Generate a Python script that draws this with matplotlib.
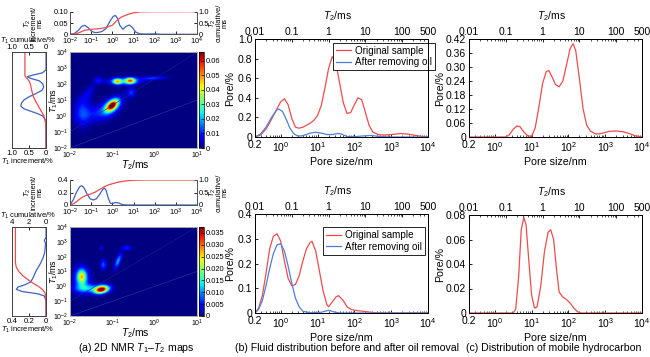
import numpy as np
import matplotlib
matplotlib.use('Agg')
import matplotlib.pyplot as plt
from matplotlib.ticker import NullLocator, LogLocator, NullFormatter
from matplotlib.lines import Line2D

plt.rcParams['font.family'] = ['Liberation Sans', 'DejaVu Sans']
plt.rcParams['mathtext.fontset'] = 'custom'
plt.rcParams['mathtext.rm'] = 'Liberation Sans'
plt.rcParams['mathtext.it'] = 'Liberation Sans:italic'
plt.rcParams['mathtext.bf'] = 'Liberation Sans:bold'
plt.rcParams['xtick.direction'] = 'in'
plt.rcParams['ytick.direction'] = 'in'
plt.rcParams['axes.linewidth'] = 0.7

# ---------------- DATA ----------------
# (a) top row: T2 spectrum (log10 T2/ms) and T1 spectrum (log10 T1/ms)
a1_t2_log = [-2.0, -1.8, -1.6, -1.45, -1.3, -1.15, -1.0, -0.85, -0.7, -0.5, -0.3, -0.1, 0.05, 0.15,
             0.25, 0.35, 0.5, 0.65, 0.8, 0.95, 1.1, 1.3, 1.6, 2.0, 2.3, 4.0]
a1_t2_inc = [0, 0.003, 0.018, 0.035, 0.04, 0.03, 0.015, 0.008, 0.008, 0.012, 0.025, 0.06, 0.08, 0.083,
             0.07, 0.04, 0.022, 0.035, 0.041, 0.03, 0.01, 0.002, 0.001, 0.002, 0, 0]
a1_cum_log = [-2.0, -1.7, -1.5, -1.3, -1.0, -0.6, -0.3, 0.0, 0.2, 0.4, 0.6, 0.8, 1.0, 1.3, 2.0, 4.0]
a1_t2_cum = [0, 0.03, 0.1, 0.18, 0.22, 0.25, 0.3, 0.4, 0.6, 0.75, 0.83, 0.9, 0.95, 0.99, 1.0, 1.0]
a1_t1_log = [4.0, 2.9, 2.7, 2.55, 2.45, 2.35, 2.2, 2.0, 1.8, 1.6, 1.4, 1.2, 1.0, 0.8, 0.62, 0.45,
             0.3, 0.15, 0.0, -0.2, -0.5, -2.0]
a1_t1_inc = [0, 0, 0.1, 0.4, 0.55, 0.45, 0.2, 0.09, 0.07, 0.12, 0.3, 0.5, 0.65, 0.72, 0.74, 0.65,
             0.45, 0.25, 0.1, 0.03, 0.005, 0]
a1_t1c_log = [4.0, 2.5, 2.4, 2.2, 2.0, 1.6, 1.2, 0.9, 0.6, 0.3, 0.0, -0.3, -0.7, -2.0]
a1_t1_cum = [0.62, 0.62, 0.58, 0.5, 0.46, 0.42, 0.37, 0.3, 0.22, 0.14, 0.06, 0.02, 0, 0]

# (a) bottom row
a2_t2_log = [-2.0, -1.85, -1.7, -1.55, -1.45, -1.35, -1.2, -1.05, -0.9, -0.75, -0.6, -0.45, -0.38,
             -0.3, -0.2, -0.1, 0.0, 0.1, 0.2, 0.35, 0.5, 0.7, 4.0]
a2_t2_inc = [0, 0.08, 0.2, 0.29, 0.31, 0.28, 0.18, 0.1, 0.08, 0.1, 0.17, 0.25, 0.27,
             0.24, 0.12, 0.03, 0.02, 0.035, 0.04, 0.025, 0.005, 0, 0]
a2_cum_log = [-2.0, -1.8, -1.6, -1.4, -1.2, -1.0, -0.8, -0.6, -0.4, -0.2, 0.0, 0.3, 0.6, 1.0, 1.5, 4.0]
a2_t2_cum = [0, 0.06, 0.2, 0.32, 0.4, 0.45, 0.52, 0.62, 0.72, 0.8, 0.85, 0.92, 0.96, 0.99, 1.0, 1.0]
a2_t1_log = [4.0, 3.3, 3.1, 2.9, 2.6, 2.3, 2.0, 1.6, 1.3, 1.0, 0.6, 0.3, 0.1, -0.05, -0.2, -0.35,
             -0.5, -0.65, -1.0, -2.0]
a2_t1_inc = [0, 0, 0.02, 0.005, 0.01, 0.015, 0.03, 0.06, 0.09, 0.12, 0.15, 0.18, 0.25, 0.33, 0.35,
             0.28, 0.1, 0.02, 0, 0]
a2_t1c_log = [4.0, 1.6, 1.3, 1.0, 0.7, 0.4, 0.2, 0.0, -0.2, -0.4, -0.6, -1.0, -2.0]
a2_t1_cum = [3.6, 3.6, 3.5, 3.2, 2.7, 2.0, 1.5, 0.9, 0.45, 0.15, 0.05, 0, 0]

# 2D map peaks: log10 T2, log10 T1, spread T2, spread T1, correlation, amplitude
m1_t2 = [-1.0, -0.88, -0.57, -0.72, -0.05, -0.55, -1.33, -1.7, -1.55, -1.05, -1.35]
m1_t1 = [0.7, 2.2, 2.25, 2.2, 2.4, 1.5, 2.25, 0.3, 1.5, 0.6, 0.2]
m1_sx = [0.1, 0.07, 0.08, 0.25, 0.22, 0.07, 0.07, 0.13, 0.1, 0.2, 0.25]
m1_sy = [0.25, 0.12, 0.13, 0.16, 0.09, 0.18, 0.15, 0.6, 0.35, 0.45, 0.35]
m1_rho = [0.5, 0, 0, 0, 0.3, 0, 0, 0, 0.6, 0.5, 0.3]
m1_amp = [0.062, 0.035, 0.042, 0.018, 0.012, 0.012, 0.009, 0.012, 0.006, 0.012, 0.007]

m2_t2 = [-1.25, -1.72, -1.72, -1.5, -1.21, -0.86, -0.66, -1.25]
m2_t1 = [-0.18, 0.72, 0.5, -0.1, 1.5, 1.75, 2.63, 2.6]
m2_sx = [0.11, 0.07, 0.12, 0.25, 0.05, 0.06, 0.08, 0.04]
m2_sy = [0.18, 0.3, 0.55, 0.2, 0.25, 0.35, 0.12, 0.1]
m2_rho = [0.3, 0, 0, 0, 0, 0.7, 0, 0]
m2_amp = [0.035, 0.017, 0.011, 0.011, 0.008, 0.011, 0.006, 0.004]

# (b) top
b1_red_log = [-0.699, -0.55, -0.4, -0.25, -0.1, 0.0, 0.1, 0.2, 0.3, 0.4, 0.5, 0.6, 0.7, 0.8, 0.9, 1.0,
              1.1, 1.2, 1.3, 1.4, 1.5, 1.6, 1.7, 1.8, 1.9, 2.0, 2.1, 2.2, 2.3, 2.4, 2.5, 2.65, 2.8,
              3.0, 3.25, 3.45, 3.6, 3.8, 4.0]
b1_red = [0.0, 0.02, 0.08, 0.18, 0.29, 0.36, 0.39, 0.33, 0.19, 0.10, 0.09, 0.10, 0.12, 0.14, 0.17, 0.22,
          0.32, 0.50, 0.70, 0.82, 0.75, 0.55, 0.35, 0.24, 0.25, 0.33, 0.40, 0.38, 0.25, 0.12, 0.05, 0.025,
          0.02, 0.025, 0.035, 0.03, 0.02, 0.008, 0.0]
b1_blue_log = [-0.699, -0.55, -0.4, -0.25, -0.1, -0.05, 0.05, 0.15, 0.25, 0.35, 0.45, 0.55, 0.7, 0.8,
               0.95, 1.1, 1.25, 1.4, 1.55, 1.65, 1.8, 2.0, 2.2, 2.45, 2.7, 3.0, 4.0]
b1_blue = [0.0, 0.03, 0.10, 0.20, 0.28, 0.285, 0.26, 0.18, 0.09, 0.035, 0.012, 0.01, 0.025, 0.04,
           0.048, 0.04, 0.025, 0.025, 0.037, 0.03, 0.005, 0.003, 0.01, 0.015, 0.005, 0.0, 0.0]
# (b) bottom
b2_red_log = [-0.699, -0.6, -0.5, -0.4, -0.3, -0.2, -0.1, 0.0, 0.1, 0.2, 0.3, 0.4, 0.5, 0.6, 0.7, 0.8,
              0.85, 0.95, 1.05, 1.15, 1.25, 1.3, 1.4, 1.5, 1.57, 1.7, 1.8, 1.92, 2.1, 2.3, 2.5, 2.7, 4.0]
b2_red = [0.0, 0.02, 0.07, 0.16, 0.26, 0.31, 0.32, 0.29, 0.21, 0.14, 0.11, 0.115, 0.15, 0.21, 0.26,
          0.285, 0.29, 0.25, 0.17, 0.09, 0.035, 0.025, 0.045, 0.065, 0.07, 0.05, 0.025, 0.014, 0.009,
          0.006, 0.002, 0.0, 0.0]
b2_blue_log = [-0.699, -0.6, -0.5, -0.4, -0.3, -0.2, -0.1, 0.0, 0.1, 0.2, 0.3, 0.4, 0.5, 0.6, 0.8,
               1.1, 1.3, 1.45, 1.6, 4.0]
b2_blue = [0.0, 0.015, 0.05, 0.11, 0.18, 0.24, 0.275, 0.28, 0.25, 0.19, 0.12, 0.06, 0.025, 0.007,
           0.001, 0.003, 0.011, 0.004, 0.0, 0.0]
# (c) top
c1_log = [-0.699, 0.3, 0.4, 0.5, 0.6, 0.68, 0.8, 0.9, 1.0, 1.1, 1.2, 1.3, 1.4, 1.47, 1.55, 1.65, 1.75,
          1.85, 1.95, 2.05, 2.13, 2.2, 2.3, 2.4, 2.5, 2.6, 2.75, 2.9, 3.1, 3.3, 3.5, 3.65, 3.8, 4.0]
c1_red = [0, 0, 0.01, 0.033, 0.047, 0.045, 0.02, 0.005, 0.002, 0.04, 0.13, 0.23, 0.28, 0.285, 0.26,
          0.225, 0.215, 0.24, 0.31, 0.38, 0.40, 0.37, 0.25, 0.12, 0.05, 0.025, 0.013, 0.015, 0.024,
          0.026, 0.022, 0.015, 0.006, 0.0]
# (c) bottom
c2_log = [-0.699, 0.5, 0.57, 0.65, 0.72, 0.79, 0.85, 0.92, 1.0, 1.08, 1.15, 1.25, 1.35, 1.45, 1.52,
          1.6, 1.68, 1.75, 1.85, 1.95, 2.05, 2.15, 2.25, 2.35, 4.0]
c2_red = [0, 0, 0.003, 0.03, 0.068, 0.078, 0.072, 0.045, 0.015, 0.004, 0.005, 0.022, 0.05, 0.066,
          0.068, 0.06, 0.035, 0.017, 0.013, 0.011, 0.008, 0.004, 0.001, 0, 0]

top_t2_ticks = [0.01, 0.1, 1, 10, 100, 500]
top_t2_labels = ['0.01', '0.1', '1', '10', '100', '500']
pore_ticks = [0.2, 1, 10, 100, 1000, 10000]
pore_labels = ['0.2', r'10$^0$', r'10$^1$', r'10$^2$', r'10$^3$', r'10$^4$']

RED = '#ee4c4c'
BLUE = '#4f7fd6'
BLUE_A = '#3c62c4'

W, H = 650, 357
fig = plt.figure(figsize=(6.5, 3.57), dpi=100)


def add_ax(x0, y0, x1, y1):
    return fig.add_axes([x0 / W, 1 - y1 / H, (x1 - x0) / W, (y1 - y0) / H])


def fx(x):
    return x / W


def fy(y):
    return 1 - y / H


FS_A = 5.4
FS = 7.5

exp_lab = {-2: r'10$^{-2}$', -1: r'10$^{-1}$', 0: r'10$^0$', 1: r'10$^1$', 2: r'10$^2$',
           3: r'10$^3$', 4: r'10$^4$'}


def panel_a(row_y, t2_log, t2_inc, cum_log, t2_cum, inc_max, inc_ticks, inc_labels,
            t1_log, t1_inc, t1c_log, t1_cum, t1_inc_max, t1_inc_ticks, t1_inc_labels,
            t1_cum_max, t1_cum_ticks, t1_cum_labels,
            mt2, mt1, msx, msy, mrho, mamp, vmax, cticks, clabels):
    top_y0, top_y1, map_y0, map_y1 = row_y
    # top T2 plot
    axt = add_ax(70, top_y0, 197, top_y1)
    axt.set_xscale('log')
    axt.set_xlim(1e-2, 1e4)
    axt.plot(10 ** np.array(t2_log), t2_inc, color=BLUE_A, lw=0.9)
    axt.set_ylim(0, inc_max)
    axt.set_yticks(inc_ticks)
    axt.set_yticklabels(inc_labels)
    axt.set_xticks([10.0 ** k for k in range(-2, 5)])
    axt.set_xticklabels([exp_lab[k] for k in range(-2, 5)])
    axt.xaxis.set_minor_locator(NullLocator())
    axt.spines['top'].set_visible(False)
    axt.tick_params(labelsize=FS_A, length=2, pad=1.2, width=0.6)
    axr = axt.twinx()
    axr.plot(10 ** np.array(cum_log), t2_cum, color=RED, lw=0.9)
    axr.set_ylim(0, 1.0)
    axr.set_yticks([0, 0.5, 1.0])
    axr.set_yticklabels(['0', '0.5', '1.0'])
    axr.spines['top'].set_visible(False)
    axr.tick_params(labelsize=FS_A, length=2, pad=1.2, width=0.6)
    for a in (axt, axr):
        for s in a.spines.values():
            s.set_color('#555555')
    ym = (top_y0 + top_y1) / 2
    fig.text(fx(28), fy(ym), r'$T_2$', rotation=90, ha='center', va='center', fontsize=FS_A)
    fig.text(fx(34), fy(ym), 'increment/', rotation=90, ha='center', va='center', fontsize=FS_A)
    fig.text(fx(40), fy(ym), 'ms', rotation=90, ha='center', va='center', fontsize=FS_A)
    fig.text(fx(213), fy(ym), r'$T_2$', rotation=90, ha='center', va='center', fontsize=FS_A)
    fig.text(fx(219), fy(ym), 'cumulative/', rotation=90, ha='center', va='center', fontsize=FS_A)
    fig.text(fx(225), fy(ym), 'ms', rotation=90, ha='center', va='center', fontsize=FS_A)

    # left T1 plot
    axl = add_ax(12, map_y0, 46, map_y1)
    axl.set_yscale('log')
    axl.set_ylim(1e-2, 1e4)
    axl.plot(t1_inc, 10 ** np.array(t1_log), color=BLUE_A, lw=0.9)
    axl.set_xlim(t1_inc_max, 0)
    axl.set_xticks(t1_inc_ticks)
    axl.set_xticklabels(t1_inc_labels)
    axl.tick_params(labelsize=FS_A + 0.3, length=2, pad=1.2, width=0.6)
    axl2 = axl.twiny()
    axl2.plot(t1_cum, 10 ** np.array(t1c_log), color=RED, lw=0.9)
    axl2.set_xlim(t1_cum_max, 0)
    axl2.set_xticks(t1_cum_ticks)
    axl2.set_xticklabels(t1_cum_labels)
    axl2.tick_params(labelsize=FS_A + 0.3, length=2, pad=0.8, width=0.6)
    axl.yaxis.set_major_locator(NullLocator())
    axl.yaxis.set_minor_locator(NullLocator())
    for a in (axl, axl2):
        for s in a.spines.values():
            s.set_color('#444444')
    fig.text(fx(28), fy(map_y0 - 11), r'$T_1$ cumulative/%', ha='center', va='center',
             fontsize=FS_A)
    fig.text(fx(28), fy(map_y1 + 14), r'$T_1$ increment/%', ha='center', va='center',
             fontsize=FS_A)

    # 2D map
    axm = add_ax(70, map_y0, 197, map_y1)
    lx = np.linspace(-2, 1, 260)
    ly = np.linspace(-2, 4, 260)
    X, Y = np.meshgrid(lx, ly)
    Z = np.zeros_like(X)
    for cx, cy, sx, sy, r, amp in zip(mt2, mt1, msx, msy, mrho, mamp):
        dx = (X - cx) / sx
        dy = (Y - cy) / sy
        q = (dx ** 2 - 2 * r * dx * dy + dy ** 2) / (1 - r ** 2)
        Z += amp * np.exp(-0.5 * q)
    pm = axm.pcolormesh(10 ** lx, 10 ** ly, Z, cmap='jet', vmin=0, vmax=vmax, shading='gouraud')
    axm.set_xscale('log')
    axm.set_yscale('log')
    axm.set_xlim(1e-2, 10)
    axm.set_ylim(1e-2, 1e4)
    axm.plot([1e-2, 10], [1e-2, 10], color='#1b2fa8', lw=0.5)
    axm.plot([1e-2, 10], [1e-1, 1e4], color='#142497', lw=0.4)
    axm.set_xticks([10.0 ** k for k in range(-2, 2)])
    axm.set_xticklabels([exp_lab[k] for k in range(-2, 2)])
    axm.set_yticks([10.0 ** k for k in range(-2, 5)])
    axm.set_yticklabels([exp_lab[k] for k in range(-2, 5)])
    axm.xaxis.set_minor_locator(NullLocator())
    axm.yaxis.set_minor_locator(NullLocator())
    axm.tick_params(labelsize=FS_A - 0.4, length=0, pad=1.5)
    for s in axm.spines.values():
        s.set_color('#aaaaaa')
    fig.text(fx(54), fy((map_y0 + map_y1) / 2), r'$T_1$/ms', rotation=90, ha='center', va='center',
             fontsize=FS_A + 1)
    fig.text(fx(135), fy(map_y1 + 17), r'$T_2$/ms', ha='center', va='center', fontsize=FS_A + 2)

    cax = add_ax(199, map_y0, 204, map_y1)
    cb = fig.colorbar(pm, cax=cax, ticks=cticks)
    cb.ax.set_yticklabels(clabels)
    cb.ax.tick_params(labelsize=FS_A, length=2, pad=1, width=0.5)
    cb.outline.set_linewidth(0.5)


panel_a((11.7, 34.3, 52, 148), a1_t2_log, a1_t2_inc, a1_cum_log, a1_t2_cum, 0.1, [0, 0.05, 0.1],
        ['0', '0.05', '0.10'],
        a1_t1_log, a1_t1_inc, a1_t1c_log, a1_t1_cum, 1.0, [1.0, 0.5, 0], ['1.0', '0.5', '0'],
        1.0, [1.0, 0.5, 0], ['1.0', '0.5', '0'],
        m1_t2, m1_t1, m1_sx, m1_sy, m1_rho, m1_amp, 0.066,
        [0, 0.01, 0.02, 0.03, 0.04, 0.05, 0.06], ['0', '0.01', '0.02', '0.03', '0.04', '0.05', '0.06'])

panel_a((180, 205, 227, 316), a2_t2_log, a2_t2_inc, a2_cum_log, a2_t2_cum, 0.4, [0, 0.2, 0.4],
        ['0', '0.2', '0.4'],
        a2_t1_log, a2_t1_inc, a2_t1c_log, a2_t1_cum, 0.4, [0.4, 0.2, 0], ['0.4', '0.2', '0'],
        4.0, [4, 2, 0], ['4', '2', '0'],
        m2_t2, m2_t1, m2_sx, m2_sy, m2_rho, m2_amp, 0.0375,
        [0, 0.005, 0.01, 0.015, 0.02, 0.025, 0.03, 0.035],
        ['0', '0.005', '0.010', '0.015', '0.020', '0.025', '0.030', '0.035'])


def pore_panel(x0, y0, x1, y1, series, ymax, yticks, ylabels, legend_box=None, ylab_x=None):
    ax = add_ax(x0, y0, x1, y1)
    ax.set_xscale('log')
    ax.set_xlim(0.2, 1e4)
    for lg, vals, col in series:
        ax.plot(10 ** np.array(lg), vals, color=col, lw=0.9)
    ax.set_ylim(0, ymax)
    ax.set_yticks(yticks)
    ax.set_yticklabels(ylabels)
    ax.set_xticks(pore_ticks)
    ax.set_xticklabels(pore_labels)
    ax.xaxis.set_minor_locator(LogLocator(base=10, subs=np.arange(2, 10)))
    ax.xaxis.set_minor_formatter(NullFormatter())
    ax.tick_params(labelsize=FS, length=2.5, pad=2, width=0.6)
    ax.tick_params(which='minor', length=1.5, width=0.5)
    top = ax.twiny()
    top.set_xscale('log')
    top.set_xlim(0.01, 500)
    top.set_xticks(top_t2_ticks)
    top.set_xticklabels(top_t2_labels)
    top.xaxis.set_minor_locator(LogLocator(base=10, subs=np.arange(2, 10)))
    top.xaxis.set_minor_formatter(NullFormatter())
    top.tick_params(labelsize=FS, length=2.5, pad=1.5, width=0.6)
    top.tick_params(which='minor', length=1.5, width=0.5)
    xm = (x0 + x1) / 2
    fig.text(fx(xm - 4), fy(y0 - 23), r'$T_2$/ms', ha='center', va='center', fontsize=FS)
    fig.text(fx(xm), fy(y1 + 25), 'Pore size/nm', ha='center', va='center', fontsize=FS + 0.2)
    if ylab_x is None:
        ylab_x = x0 - 25
    fig.text(fx(ylab_x), fy((y0 + y1) / 2), 'Pore/%', rotation=90, ha='center', va='center',
             fontsize=FS + 0.2)
    if legend_box is not None:
        handles = [Line2D([], [], color=RED, lw=0.9), Line2D([], [], color=BLUE, lw=0.9)]
        leg = ax.legend(handles, ['Original sample', 'After removing oil'], loc='upper right',
                        bbox_to_anchor=(fx(legend_box[0]), fy(legend_box[1])),
                        bbox_transform=fig.transFigure, borderaxespad=0, fontsize=7.1,
                        fancybox=False, edgecolor='black', framealpha=1, handlelength=1.5,
                        handletextpad=0.4, borderpad=0.3, labelspacing=0.15)
        leg.get_frame().set_linewidth(0.6)
    return ax


pore_panel(255, 39, 428, 137, [(b1_red_log, b1_red, RED), (b1_blue_log, b1_blue, BLUE)],
           1.0, [0, 0.2, 0.4, 0.6, 0.8, 1.0], ['0', '0.2', '0.4', '0.6', '0.8', '1.0'],
           legend_box=(435, 42.7))
pore_panel(255, 214, 428, 313, [(b2_red_log, b2_red, RED), (b2_blue_log, b2_blue, BLUE)],
           0.4, [0, 0.1, 0.2, 0.3, 0.4], ['0', '0.1', '0.2', '0.3', '0.4'],
           legend_box=(425, 227.3))
pore_panel(469, 39, 642, 137, [(c1_log, c1_red, RED)],
           0.42, [0, 0.06, 0.12, 0.18, 0.24, 0.30, 0.36, 0.42],
           ['0', '0.06', '0.12', '0.18', '0.24', '0.30', '0.36', '0.42'], ylab_x=440)
pore_panel(469, 215, 642, 313, [(c2_log, c2_red, RED)],
           0.08, [0, 0.02, 0.04, 0.06, 0.08], ['0', '0.02', '0.04', '0.06', '0.08'], ylab_x=440)

fig.text(fx(136), fy(348), r'(a) 2D NMR $T_1$–$T_2$ maps', ha='center', va='center', fontsize=7.6)
fig.text(fx(347), fy(348), '(b) Fluid distribution before and after oil removal', ha='center',
         va='center', fontsize=7.6)
fig.text(fx(554), fy(348), '(c) Distribution of mobile hydrocarbon', ha='center', va='center',
         fontsize=7.6)

fig.savefig('out.png', dpi=100)
